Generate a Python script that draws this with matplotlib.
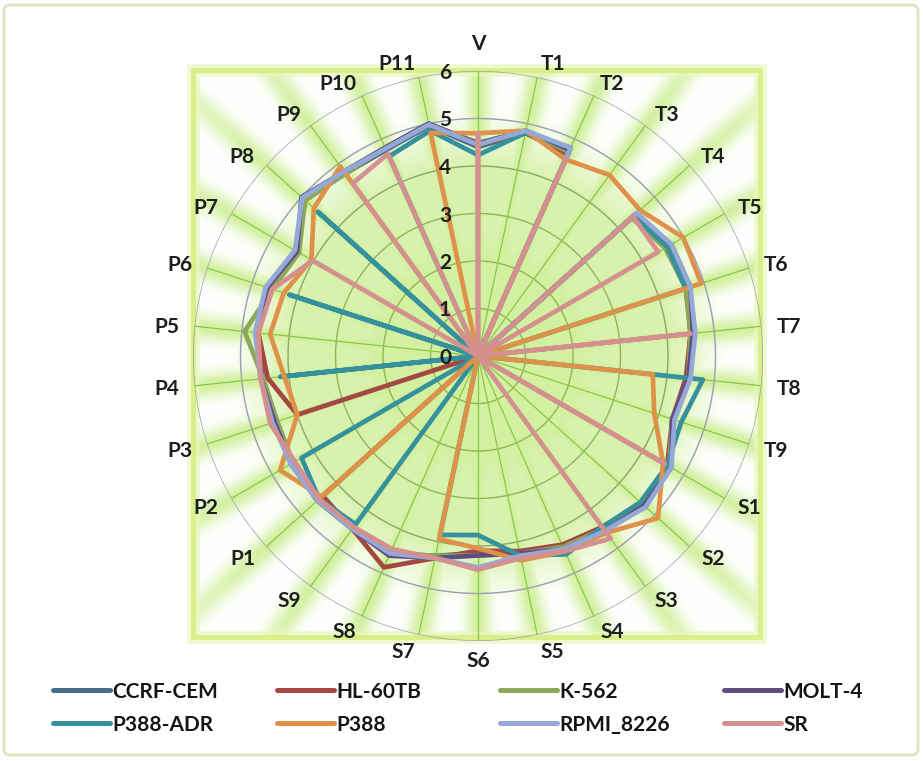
import numpy as np
import matplotlib
matplotlib.use('Agg')
import matplotlib.pyplot as plt
from matplotlib.patches import Rectangle, FancyBboxPatch

# ---------------- data ----------------
categories = ['V', 'T1', 'T2', 'T3', 'T4', 'T5', 'T6', 'T7', 'T8', 'T9',
              'S1', 'S2', 'S3', 'S4', 'S5', 'S6', 'S7', 'S8', 'S9',
              'P1', 'P2', 'P3', 'P4', 'P5', 'P6', 'P7', 'P8', 'P9', 'P10', 'P11']

ccrf_cem = [4.40, 4.80, 4.70, 0, 4.45, 4.65, 4.65, 4.50, 4.45, 4.30,
            4.65, 4.75, 4.50, 4.40, 4.25, 4.15, 4.30, 4.55, 4.50,
            4.55, 4.50, 4.45, 4.55, 4.70, 4.62, 4.40, 4.90, 4.75, 4.75, 4.95]
hl_60tb = [4.45, 4.80, 4.65, 0, 4.40, 4.60, 4.60, 4.50, 4.40, 4.30,
           4.60, 4.65, 4.45, 4.35, 4.20, 4.10, 4.35, 4.87, 4.50,
           4.40, 0, 4.00, 4.45, 4.65, 4.60, 4.40, 4.90, 4.80, 4.80, 5.00]
k_562 = [4.45, 4.85, 4.70, 0, 4.35, 4.55, 4.60, 4.50, 4.45, 4.30,
         4.65, 4.70, 4.50, 4.40, 4.25, 4.20, 4.30, 4.55, 4.50,
         4.55, 4.50, 4.45, 4.55, 4.94, 4.55, 4.35, 4.90, 4.75, 4.80, 5.00]
molt_4 = [4.48, 4.85, 4.75, 0, 4.45, 4.70, 4.70, 4.55, 4.45, 4.30,
          4.70, 4.70, 4.55, 4.45, 4.25, 4.20, 4.35, 4.60, 4.50,
          4.55, 4.55, 4.50, 4.60, 4.70, 4.67, 4.40, 5.00, 4.80, 4.80, 5.00]
p388_adr = [4.23, 4.80, 4.80, 0, 4.40, 4.60, 4.60, 0, 4.76, 4.50,
            4.60, 4.60, 4.45, 4.57, 4.30, 3.77, 3.85, 0, 4.38,
            4.50, 4.29, 0, 4.18, 0, 4.17, 0, 4.53, 0, 4.60, 4.85]
p388 = [4.69, 4.85, 4.53, 4.71, 4.59, 4.99, 4.94, 0, 3.70, 3.90,
        4.50, 5.10, 4.60, 4.50, 4.40, 4.05, 3.94, 0, 0,
        4.43, 4.81, 4.00, 4.10, 4.40, 4.30, 4.05, 4.65, 4.93, 0, 4.80]
rpmi_8226 = [4.45, 4.85, 4.80, 0, 4.50, 4.70, 4.70, 4.60, 4.50, 4.35,
             4.70, 4.75, 4.55, 4.45, 4.30, 4.45, 4.35, 4.55, 4.50,
             4.55, 4.55, 4.55, 4.60, 4.72, 4.70, 4.45, 4.98, 4.80, 4.78, 4.98]
sr = [4.69, 0, 4.53, 0, 4.39, 4.38, 0, 4.49, 0, 0,
      4.54, 0, 4.75, 4.50, 4.35, 4.50, 4.35, 4.45, 4.45,
      4.50, 4.45, 4.60, 4.60, 4.65, 4.55, 4.02, 0, 4.49, 4.66, 0]

series_names = ['CCRF-CEM', 'HL-60TB', 'K-562', 'MOLT-4',
                'P388-ADR', 'P388', 'RPMI_8226', 'SR']
series_values = [ccrf_cem, hl_60tb, k_562, molt_4, p388_adr, p388, rpmi_8226, sr]
series_colors = ['#4A6B8C', '#A34743', '#8DA85A', '#5F4D82',
                 '#35919B', '#DE9249', '#95A9D8', '#D4908F']
r_ticks = [0, 1, 2, 3, 4, 5, 6]

# ---------------- layout ----------------
W, H = 923, 761
CX, CY, R = 478, 356, 285
FX0, FY0, FX1, FY1 = 193, 70, 760, 637   # plot-area frame (pixels)
rmax = 6
unit = R / rmax

n = len(categories)
theta = np.arange(n) * 2 * np.pi / n

fig = plt.figure(figsize=(W / 100, H / 100), dpi=100)

# background (glow rays behind spokes)
bg = fig.add_axes([0, 0, 1, 1])
yy, xx = np.mgrid[0:H, 0:W].astype(float)
dx = xx - CX
up = CY - yy
rr = np.hypot(dx, up)
rays = np.zeros((H, W))
for t in theta:
    s, c = np.sin(t), np.cos(t)
    along = dx * s + up * c
    perp = np.abs(dx * c - up * s)
    g = np.exp(-(perp / 12.5) ** 2)
    g[along < 0] = 0
    rays += g
rays = np.clip(rays, 0, 1)
core = np.clip((5.3 * unit - rr) / (1.3 * unit), 0, 1)
inten = np.maximum(rays, 0.85 * core)
fade = np.clip(1 - (rr - R) / 260.0, 0.45, 1)
inten = inten * fade
mask = (xx >= FX0) & (xx <= FX1) & (yy >= FY0) & (yy <= FY1)
inten = inten * mask
green = np.array([210, 240, 160]) / 255.0
img = np.ones((H, W, 3)) * (1 - inten[..., None]) + green * inten[..., None]
bg.imshow(img, extent=(0, W, H, 0), interpolation='bilinear', aspect='auto')
bg.set_xlim(0, W)
bg.set_ylim(H, 0)
bg.axis('off')

# frame glow + frame
bg.add_patch(Rectangle((FX0, FY0), FX1 - FX0, FY1 - FY0, fill=False,
                       edgecolor='#EAF6BC', lw=9, alpha=0.7))
bg.add_patch(Rectangle((FX0, FY0), FX1 - FX0, FY1 - FY0, fill=False,
                       edgecolor='#D9EF8A', lw=3.5))
# chart-area border
bg.add_patch(FancyBboxPatch((4, 5), W - 9, H - 11,
                            boxstyle='round,pad=0,rounding_size=6',
                            fill=False, edgecolor='#DDE6C2', lw=2))

# radar axes
ax = fig.add_axes([(CX - R) / W, (H - CY - R) / H, 2 * R / W, 2 * R / H],
                  projection='polar')
ax.patch.set_alpha(0)
ax.set_theta_zero_location('N')
ax.set_theta_direction(-1)
ax.set_ylim(0, rmax)
ax.grid(False)
ax.set_xticks([])
ax.set_yticks([])
ax.spines['polar'].set_visible(False)

circ = np.linspace(0, 2 * np.pi, 400)
for k in r_ticks[1:]:
    col = '#8CB854' if k <= 3 else ('#8EA468' if k == 4 else '#9D9BB0')
    ax.plot(circ, np.full_like(circ, k), color=col, lw=1.0, zorder=1)
for t in theta:
    ax.plot([t, t], [0, rmax], color='#8DC646', lw=0.9, zorder=1)

for name, vals, col in zip(series_names, series_values, series_colors):
    v = np.array(vals, dtype=float)
    ax.plot(np.append(theta, theta[0]), np.append(v, v[0]), color=col,
            lw=3.4, solid_joinstyle='round', solid_capstyle='round', zorder=3)

lab_font = dict(family=['Lato', 'DejaVu Sans'], fontsize=15, fontweight='bold',
                color='#1E1E1E')
for t, lab in zip(theta, categories):
    s, c = np.sin(t), np.cos(t)
    if abs(s) < 0.05:
        if c > 0:
            ax.text(t, 6.35, lab, ha='center', va='bottom', **lab_font)
        else:
            ax.text(t, 6.22, lab, ha='center', va='top', **lab_font)
    else:
        ax.text(t, 6.32, lab, ha='left' if s > 0 else 'right',
                va='center_baseline', **lab_font)

for k in r_ticks:
    ax.annotate(str(k), xy=(0, k), xytext=(-27, 0), textcoords='offset pixels',
                ha='right', va='center_baseline', zorder=4, **lab_font)

# legend (two rows of four)
leg_x = [53, 277, 500, 724]
leg_y = [690, 723]
for i in range(len(series_names)):
    row, colm = divmod(i, 4)
    x0 = leg_x[colm]
    y0 = leg_y[row]
    bg.plot([x0, x0 + 57], [y0, y0], color=series_colors[i], lw=3.6,
            solid_capstyle='round')
    bg.text(x0 + 59, y0, series_names[i], ha='left', va='center_baseline',
            family=['Lato', 'DejaVu Sans'], fontsize=15, fontweight='bold',
            color='#151515')

fig.savefig('out.png', dpi=100)
